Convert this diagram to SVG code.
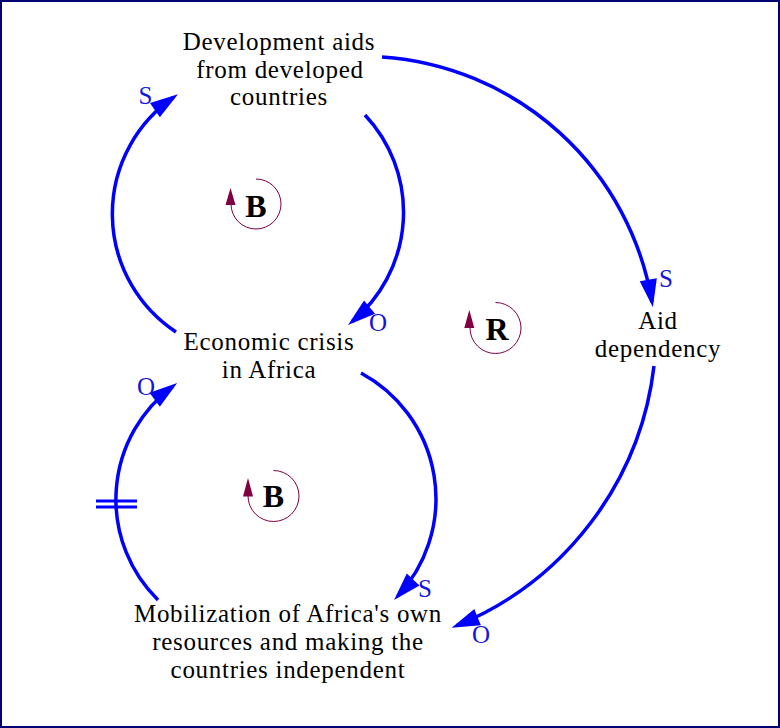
<svg xmlns="http://www.w3.org/2000/svg" width="780" height="728" viewBox="0 0 780 728">
<defs>
<marker id="ah" markerUnits="userSpaceOnUse" orient="auto" refX="0" refY="0" markerWidth="40" markerHeight="40" viewBox="-20 -10 30 20" overflow="visible">
<path d="M4,0 L-17,-6.5 L-17,6.5 Z" fill="#0000ff"/>
</marker>
<style>
.lbl{font-family:"Liberation Serif","Times New Roman",serif;font-size:25px;fill:#000;text-anchor:middle;letter-spacing:0.7px}
.pol{font-family:"Liberation Serif","Times New Roman",serif;font-size:25px;fill:#1515dd;text-anchor:middle}
.lp{font-family:"Liberation Serif","Times New Roman",serif;font-size:32px;font-weight:bold;fill:#000;text-anchor:middle}
.link{fill:none;stroke:#0000ff;stroke-width:3.5;marker-end:url(#ah)}
.loop{fill:none;stroke:#800040;stroke-width:1}
.loopa{fill:#800040}
.delay{stroke:#0000ff;stroke-width:3}
</style>
</defs>
<rect x="1" y="1" width="778" height="726" fill="#ffffff" stroke="#000070" stroke-width="2"/>

<g id="connectors">
<path class="link" d="M176,332 A141.5,141.5 0 0 1 173.6,97.3"/>
<path class="link" d="M365,115 A142,142 0 0 1 352.1,321.6"/>
<path class="link" d="M158,600 A141,141 0 0 1 172.9,386.3"/>
<path class="link" d="M361,373 A143,143 0 0 1 397.7,596.1"/>
<path class="link" d="M382,57 A294,294 0 0 1 652,302.1"/>
<path class="link" d="M654,366 A321,321 0 0 1 456.6,625.7"/>
<line class="delay" x1="96" y1="501" x2="137" y2="501"/>
<line class="delay" x1="96" y1="507" x2="137" y2="507"/>
<text class="pol" x="145.5" y="104">S</text>
<text class="pol" x="378" y="331">O</text>
<text class="pol" x="666" y="287">S</text>
<text class="pol" x="146" y="395">O</text>
<text class="pol" x="425" y="597">S</text>
<text class="pol" x="481" y="643">O</text>
</g>

<g id="node-development-aids">
<text class="lbl" x="279" y="50">Development aids</text>
<text class="lbl" x="280" y="77.5">from developed</text>
<text class="lbl" x="279" y="105">countries</text>
</g>

<g id="node-economic-crisis">
<text class="lbl" x="269" y="350">Economic crisis</text>
<text class="lbl" x="269" y="377.5">in Africa</text>
</g>

<g id="node-aid-dependency">
<text class="lbl" x="658" y="329">Aid</text>
<text class="lbl" x="658" y="357">dependency</text>
</g>

<g id="node-mobilization">
<text class="lbl" x="288" y="622">Mobilization of Africa's own</text>
<text class="lbl" x="288" y="650">resources and making the</text>
<text class="lbl" x="288" y="678">countries independent</text>
</g>

<g id="loop-b-top">
<path class="loop" d="M256,179 A25,25 0 1 1 231,204"/>
<path class="loopa" d="M230.5,188 L225.5,205 L235.5,205 Z"/>
<text class="lp" x="256" y="217">B</text>
</g>

<g id="loop-r">
<path class="loop" d="M495.5,302.5 A25.5,25.5 0 1 1 470,328"/>
<path class="loopa" d="M469.3,310 L464.3,328 L474.3,328 Z"/>
<text class="lp" x="497" y="340">R</text>
</g>

<g id="loop-b-bottom">
<path class="loop" d="M273.5,470.5 A25.5,25.5 0 1 1 248,496"/>
<path class="loopa" d="M248,478 L243,496.5 L253,496.5 Z"/>
<text class="lp" x="273.5" y="507">B</text>
</g>
</svg>
